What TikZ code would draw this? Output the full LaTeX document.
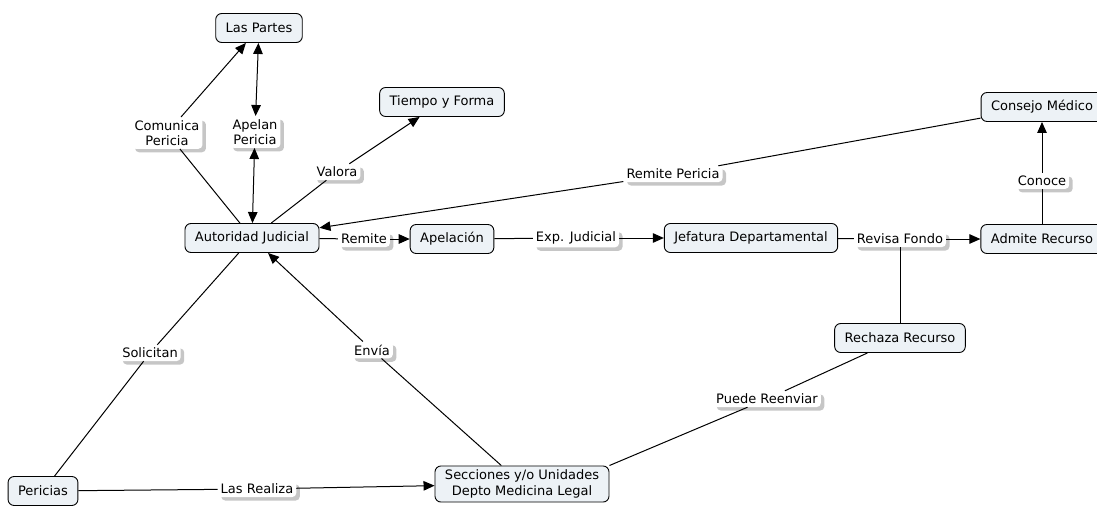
\documentclass[tikz,border=0pt]{standalone}
\usepackage{fontspec}
\setmainfont{DejaVu Sans}
\usetikzlibrary{arrows.meta,shadows}
\definecolor{conceptfill}{RGB}{237,242,246}
\begin{document}
\begin{tikzpicture}[x=1pt,y=-1pt,
  font=\fontsize{13}{15.5}\selectfont,
  concept/.style={draw=black, line width=0.9pt, fill=conceptfill, rounded corners=6pt,
    inner xsep=10pt, inner ysep=4pt, minimum height=29pt, align=center},
  lbl/.style={fill=white, rounded corners=4pt, inner xsep=3pt, inner ysep=3pt, align=center,
    drop shadow={shadow xshift=3.5pt, shadow yshift=-3.5pt, fill=black!28, opacity=0.8}},
  link/.style={line width=1pt},
  arr/.style={link, -{Triangle[length=11pt,width=9.5pt]}},
  darr/.style={link, {Triangle[length=11pt,width=9.5pt]}-{Triangle[length=11pt,width=9.5pt]}}
]
\useasboundingbox (0,0) rectangle (1097,506);
\clip (0,0) rectangle (1097,506);

% concepts
\node[concept] (partes)  at (259,28)  {Las Partes};
\node[concept] (tiempo)  at (442,102) {Tiempo y Forma};
\node[concept] (aj)      at (252,238) {Autoridad Judicial};
\node[concept] (apel)    at (452,239) {Apelación};
\node[concept] (jef)     at (751,238) {Jefatura Departamental};
\node[concept] (admite)  at (1042,239) {Admite Recurso};
\node[concept] (consejo) at (1042,107) {Consejo Médico};
\node[concept] (rechaza) at (900,338) {Rechaza Recurso};
\node[concept] (secc)    at (522,484) {Secciones y/o Unidades\\Depto Medicina Legal};
\node[concept] (peric)   at (43,491)  {Pericias};

% linking phrases
\node[lbl] (comunica) at (167,133) {Comunica\\Pericia};
\node[lbl] (apelan)   at (255,132) {Apelan\\Pericia};
\node[lbl] (valora)   at (337,172) {Valora};
\node[lbl] (remitep)  at (673,174) {Remite Pericia};
\node[lbl] (remite)   at (364,239) {Remite};
\node[lbl] (expj)     at (576,238) {Exp. Judicial};
\node[lbl] (revisa)   at (900,239) {Revisa Fondo};
\node[lbl] (conoce)   at (1042,181) {Conoce};
\node[lbl] (puede)    at (767,399) {Puede Reenviar};
\node[lbl] (envia)    at (372,350) {Envía};
\node[lbl] (solic)    at (150,353) {Solicitan};
\node[lbl] (realiza)  at (257,489) {Las Realiza};

% connectors
\draw[link] (aj) -- (comunica);
\draw[arr]  (comunica) -- (partes);
\draw[darr] (aj) -- (apelan);
\draw[darr] (apelan) -- (partes);
\draw[link] (aj) -- (valora);
\draw[arr]  (valora) -- (tiempo);
\draw[link] (consejo) -- (remitep);
\draw[arr]  (remitep) -- (aj);
\draw[link] (aj) -- (remite);
\draw[arr]  (remite) -- (apel);
\draw[link] (apel) -- (expj);
\draw[arr]  (expj) -- (jef);
\draw[link] (jef) -- (revisa);
\draw[arr]  (revisa) -- (admite);
\draw[link] (revisa) -- (rechaza);
\draw[link] (admite) -- (conoce);
\draw[arr]  (conoce) -- (consejo);
\draw[link] (rechaza) -- (puede);
\draw[link] (puede) -- (secc.north east);
\draw[link] (secc) -- (envia);
\draw[arr]  (envia) -- (aj);
\draw[link] (aj) -- (solic);
\draw[link] (solic) -- (peric);
\draw[link] (peric) -- (realiza);
\draw[arr]  (realiza) -- (secc);
\end{tikzpicture}
\end{document}
